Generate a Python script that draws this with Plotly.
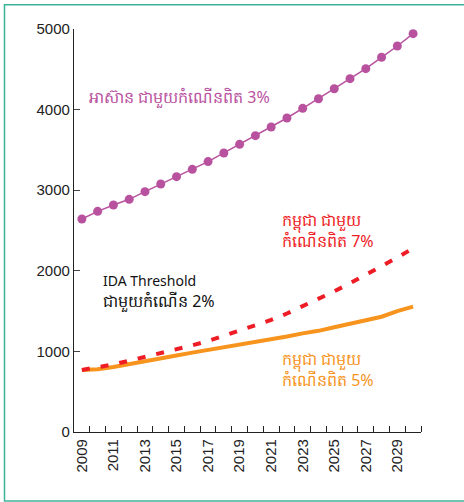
import plotly.graph_objects as go

years = list(range(2009, 2031))
asean = [2643, 2738, 2816, 2887, 2982, 3077, 3168, 3259, 3355, 3462, 3569,
         3677, 3784, 3896, 4016, 4135, 4259, 4384, 4508, 4649, 4789, 4942]
cam7 = [770, 800, 838, 885, 930, 980, 1030, 1075, 1130, 1195, 1265,
        1330, 1390, 1470, 1560, 1655, 1745, 1845, 1950, 2060, 2165, 2280]
cam5 = [770, 778, 806, 845, 880, 915, 950, 985, 1017, 1045, 1083,
        1110, 1141, 1185, 1224, 1255, 1299, 1340, 1385, 1430, 1500, 1555]
label_years = list(range(2009, 2031, 2))
y_ticks = [0, 1000, 2000, 3000, 4000, 5000]

PURPLE = "#B8529F"
RED = "#EE1C25"
ORANGE = "#F7941D"
TEAL = "#3DB49A"

W, H = 464, 502
L, R, T, B = 74, 43, 29, 70
pw, ph = W - L - R, H - T - B

def px(x):
    return (x - L) / pw

def py(y):
    return (H - B - y) / ph

fig = go.Figure()
fig.add_trace(go.Scatter(x=years, y=cam5, mode="lines",
                         line=dict(color=ORANGE, width=4), showlegend=False))
fig.add_trace(go.Scatter(x=years, y=cam7, mode="lines",
                         line=dict(color=RED, width=4, dash="8px,11px"), showlegend=False))
fig.add_trace(go.Scatter(x=years, y=asean, mode="lines+markers",
                         line=dict(color=PURPLE, width=1.5),
                         marker=dict(color=PURPLE, size=9), showlegend=False))

font = "Noto Sans, DejaVu Sans, Liberation Sans, sans-serif"
anns = [
    ("អាស៊ាន ជាមួយកំណើនពិត 3%", 87, 97, PURPLE),
    ("កម្ពុជា ជាមួយ<br>កំណើនពិត 7%", 280, 230, RED),
    ('<span style="font-size:14px">IDA Threshold</span><br>ជាមួយកំណើន 2%', 101, 292, "#111111"),
    ("កម្ពុជា ជាមួយ<br>កំណើនពិត 5%", 280, 369, ORANGE),
]
for text, x, y, c in anns:
    fig.add_annotation(text=text, x=px(x), y=py(y), xref="paper", yref="paper",
                       xanchor="left", yanchor="middle", showarrow=False,
                       align="left", font=dict(size=16, color=c, family=font))

fig.add_shape(type="rect", xref="paper", yref="paper",
              x0=px(4.5), x1=px(466), y0=py(501), y1=py(4.7),
              line=dict(color=TEAL, width=1.5))

fig.update_layout(
    width=W, height=H, margin=dict(l=L, r=R, t=T, b=B),
    paper_bgcolor="white", plot_bgcolor="white",
    font=dict(family="Liberation Sans, Arial, sans-serif", size=14, color="#222222"),
    xaxis=dict(range=[2008.5, 2030.5], tickmode="array", tickvals=label_years,
               ticktext=[str(v) for v in label_years], tickangle=-90,
               ticks="", showgrid=False, zeroline=False,
               showline=True, linecolor="#222222", linewidth=1.2,
               tickfont=dict(size=15, color="#222222"),
               minor=dict(tickmode="array", tickvals=[v + 0.5 for v in years],
                          ticks="inside", ticklen=6, tickcolor="#222222", tickwidth=1,
                          showgrid=False)),
    yaxis=dict(range=[0, 5000], tickmode="array", tickvals=y_ticks,
               ticks="inside", ticklen=6, tickcolor="#444444",
               showgrid=False, zeroline=False,
               showline=True, linecolor="#222222", linewidth=1.2,
               tickfont=dict(size=15, color="#222222")),
)

fig.write_html("out.html", config={"displayModeBar": False},
               post_script="document.body.style.margin='0px';")
